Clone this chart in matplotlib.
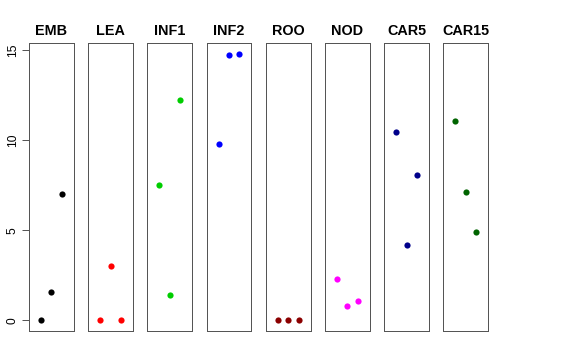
import matplotlib
matplotlib.use("Agg")
import matplotlib.pyplot as plt

# panel names and colours
groups = ["EMB", "LEA", "INF1", "INF2", "ROO", "NOD", "CAR5", "CAR15"]
colors = ["black", "red", "#00CD00", "blue", "#8B0000", "magenta", "#00008B", "#006400"]

# three values per panel, plotted at x = 1, 2, 3
x_pos = [1, 2, 3]
values = [
    [0.0, 1.6, 7.0],
    [0.0, 3.0, 0.0],
    [7.5, 1.4, 12.25],
    [9.8, 14.75, 14.8],
    [0.0, 0.0, 0.0],
    [2.3, 0.8, 1.05],
    [10.45, 4.2, 8.05],
    [11.1, 7.15, 4.9],
]
y_ticks = [0, 5, 10, 15]

plt.rcParams["font.family"] = ["Liberation Sans", "DejaVu Sans"]

W, H = 576, 360
fig = plt.figure(figsize=(W / 72, H / 72), dpi=72)

left0, step, width = 29.0, 59.2, 44.8
top, bottom = 43.3, 331.0
ymax = max(max(v) for v in values)
pad_y = ymax * 0.04

for i, (name, col, vals) in enumerate(zip(groups, colors, values)):
    left = left0 + i * step
    ax = fig.add_axes([left / W, 1 - bottom / H, width / W, (bottom - top) / H])
    ax.plot(x_pos, vals, "o", color=col, markersize=6.2, markeredgewidth=0)
    ax.set_xlim(-0.16, 4.16)
    ax.set_ylim(-pad_y, ymax + pad_y)
    ax.set_xticks([])
    for s in ax.spines.values():
        s.set_color("#555555")
        s.set_linewidth(1.0)
    ax.set_title(name, fontsize=14.4, fontweight="bold", pad=8)
    if i == 0:
        ax.set_yticks(y_ticks)
        ax.set_yticklabels([str(t) for t in y_ticks], rotation=90, va="center", fontsize=12)
        ax.tick_params(axis="y", length=7, width=1, color="#555555", pad=3)
    else:
        ax.set_yticks([])

fig.savefig("out.png", dpi=72)
